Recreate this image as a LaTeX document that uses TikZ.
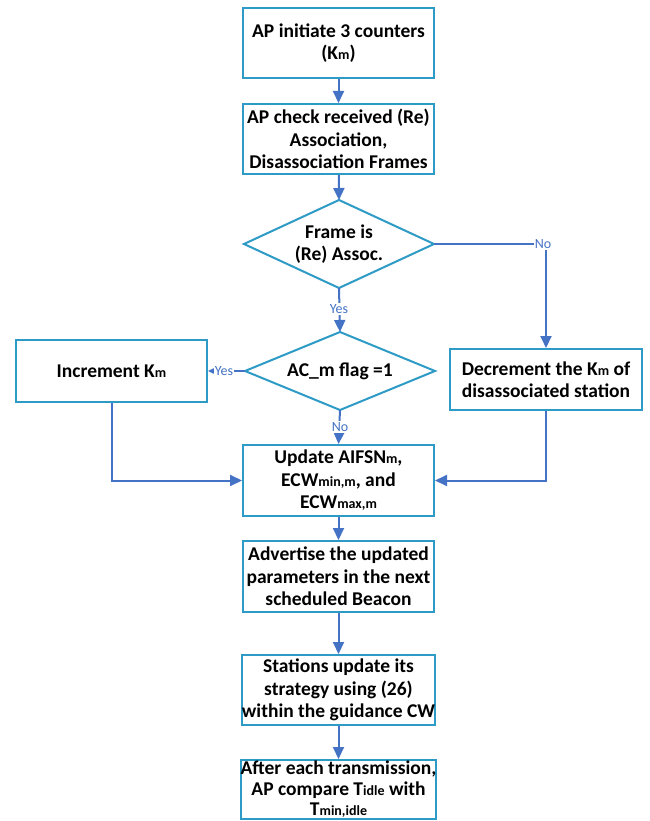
\documentclass[tikz,border=0pt]{standalone}
\usepackage{fontspec}
\setmainfont{Carlito}
\usetikzlibrary{arrows.meta,shapes.geometric}
\definecolor{boxc}{HTML}{2E9BC6}
\definecolor{arrc}{HTML}{4472C4}
\newcommand{\sm}[1]{{\fontsize{14}{14}\selectfont #1}}
\begin{document}
\begin{tikzpicture}[x=1pt,y=-1pt,
  every node/.style={font=\bfseries\fontsize{19.5}{22.5}\selectfont, align=center, inner sep=0pt},
  pbox/.style={draw=boxc, line width=2pt, fill=white, minimum width=191pt},
  conn/.style={draw=arrc, line width=2pt, -{Triangle[width=11pt,length=12pt]}},
  lbl/.style={font=\fontsize{14}{14}\selectfont, text=arrc, fill=white, inner sep=1pt}]
\useasboundingbox (0,0) rectangle (649,821);
\node[pbox, minimum height=70pt] (b1) at (338.5,43) {AP initiate 3 counters\\(K\sm{m})};
\node[pbox, minimum height=70pt] (b2) at (338.5,139) {AP check received (Re)\\Association,\\Disassociation Frames};
\path (244,244) coordinate (d1w) (434,244) coordinate (d1e) (339,200) coordinate (d1n) (339,288) coordinate (d1s);
\draw[draw=boxc, line width=2pt, fill=white] (d1n) -- (d1e) -- (d1s) -- (d1w) -- cycle;
\node (d1) at (339,244) {Frame is\\(Re) Assoc.};
\path (245,371) coordinate (d2w) (435,371) coordinate (d2e) (340,332) coordinate (d2n) (340,410) coordinate (d2s);
\draw[draw=boxc, line width=2pt, fill=white] (d2n) -- (d2e) -- (d2s) -- (d2w) -- cycle;
\node (d2) at (340,371) {AC\_m flag =1};
\node[pbox, minimum width=191pt, minimum height=62pt] (inc) at (111.5,371) {Increment K\sm{m}};
\node[pbox, minimum width=192pt, minimum height=61pt] (dec) at (546,379.5) {Decrement the K\sm{m} of\\disassociated station};
\node[pbox, minimum height=71pt] (b3) at (338.5,480.5) {Update AIFSN\sm{m},\\ECW\sm{min,m}, and\\ECW\sm{max,m}};
\node[pbox, minimum height=71pt] (b4) at (338.5,576.5) {Advertise the updated\\parameters in the next\\scheduled Beacon};
\node[pbox, minimum height=70pt] (b5) at (338.5,690) {Stations update its\\strategy using (26)\\within the guidance CW};
\node[pbox, minimum height=59pt, font=\bfseries\fontsize{19.5}{20.5}\selectfont] (b6) at (338.5,789.5) {After each transmission,\\AP compare T\sm{idle} with\\T\sm{min,idle}};
\draw[conn] (b1) -- (b2);
\draw[conn] (b2) -- (d1n);
\draw[conn] (d1e) -- (546,244) -- (dec.north);
\node[lbl] at (543,244) {No};
\draw[conn] (d1s) -- (d2n);
\node[lbl] at (339,309) {Yes};
\draw[conn] (d2w) -- (inc.east);
\node[lbl] at (224,371) {Yes};
\draw[conn] (d2s) -- (b3.north);
\node[lbl] at (340,427) {No};
\draw[conn] (inc.south) -- (111.5,480.5) -- (b3.west);
\draw[conn] (dec.south) -- (546,480.5) -- (b3.east);
\draw[conn] (b3) -- (b4);
\draw[conn] (b4) -- (b5);
\draw[conn] (b5) -- (b6);
\end{tikzpicture}
\end{document}
